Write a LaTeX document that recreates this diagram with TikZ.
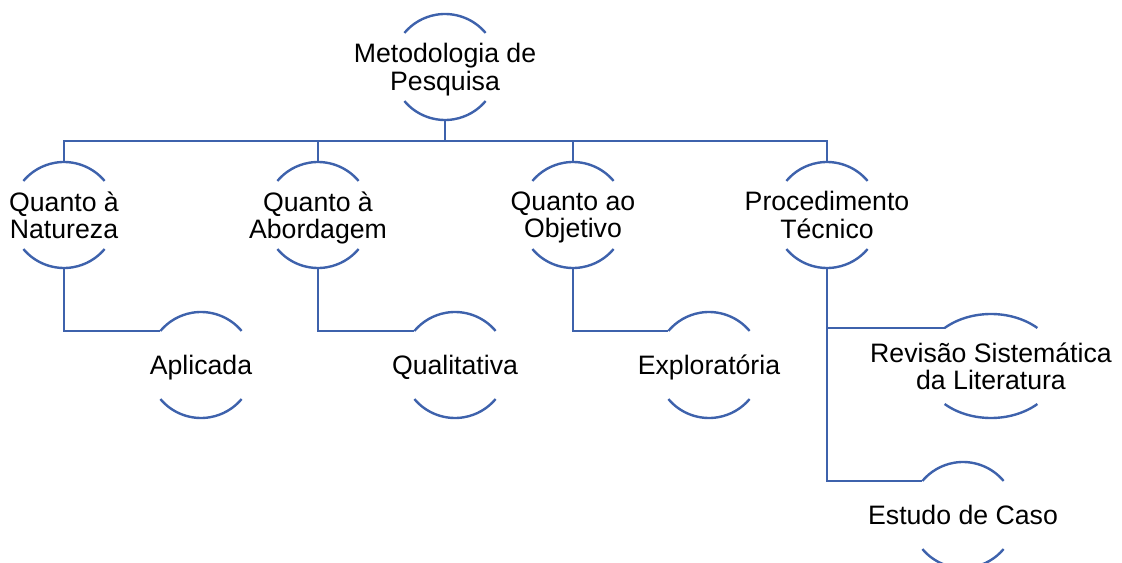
\documentclass[tikz,border=0pt]{standalone}
\usepackage{fontspec}
\setmainfont{Liberation Sans}
\definecolor{arcblue}{RGB}{62,98,172}
\tikzset{
  ring/.style={circle,minimum size=79.5pt,inner sep=0pt,outer sep=0pt},
  lbl/.style={align=center,font=\fontsize{20}{20.5}\selectfont,yshift=-3pt,
    execute at begin node=\strut,execute at end node=\strut},
  link/.style={draw=arcblue,line width=1.8pt}
}
\begin{document}
\begin{tikzpicture}[x=0.75pt,y=0.75pt]
		\useasboundingbox (0,0) rectangle (1122,-563);
		% nodes
		\node[ring,label={[lbl]center:{Metodologia de\\Pesquisa}}] (mp) at (445,-67) {};
		\node[ring,label={[lbl]center:{Quanto à\\Natureza}}] (qn) at (64,-215) {};
		\node[ring,label={[lbl]center:{Quanto à\\Abordagem}}] (qa) at (318,-215) {};
		\node[ring,label={[lbl]center:{Quanto ao\\Objetivo}}] (qo) at (573,-215) {};
		\node[ring,label={[lbl]center:{Procedimento\\Técnico}}] (pt) at (827,-215) {};
		\node[ring,label={[lbl]center:Aplicada}] (ap) at (201,-365) {};
		\node[ring,label={[lbl]center:Qualitativa}] (ql) at (455,-365) {};
		\node[ring,label={[lbl]center:Exploratória}] (ex) at (709,-365) {};
		\node[ring,label={[lbl]center:{Revisão Sistemática\\da Literatura}}] (rs) at (991,-366) {};
		\node[ring,label={[lbl]center:Estudo de Caso}] (ec) at (963,-515) {};
		% arcs
		\foreach \n in {mp,qn,qa,qo,pt,ap,ql,ex,ec} {
			\draw[link] (\n.40) arc[start angle=40,end angle=140,radius=53];
			\draw[link] (\n.220) arc[start angle=220,end angle=320,radius=53];
		}
		\coordinate (rsin) at ([shift={(133:68 and 52)}]rs.center);
		\draw[link] ([shift={(47:68 and 52)}]rs.center) arc[start angle=47,end angle=133,x radius=68,y radius=52];
		\draw[link] ([shift={(227:68 and 52)}]rs.center) arc[start angle=227,end angle=313,x radius=68,y radius=52];
		% connectors
		\coordinate (bus) at (445,-141);
		\draw[link] (mp.south) -- (bus);
		\draw[link] (qn.north) -- (qn.north |- bus) -- (pt.north |- bus) -- (pt.north);
		\draw[link] (qa.north) -- (qa.north |- bus);
		\draw[link] (qo.north) -- (qo.north |- bus);
		\draw[link] (qn.south) |- (ap.140);
		\draw[link] (qa.south) |- (ql.140);
		\draw[link] (qo.south) |- (ex.140);
		\draw[link] (pt.south) |- (rsin);
		\draw[link] (pt.south) |- (ec.140);
	\end{tikzpicture}
\end{document}
